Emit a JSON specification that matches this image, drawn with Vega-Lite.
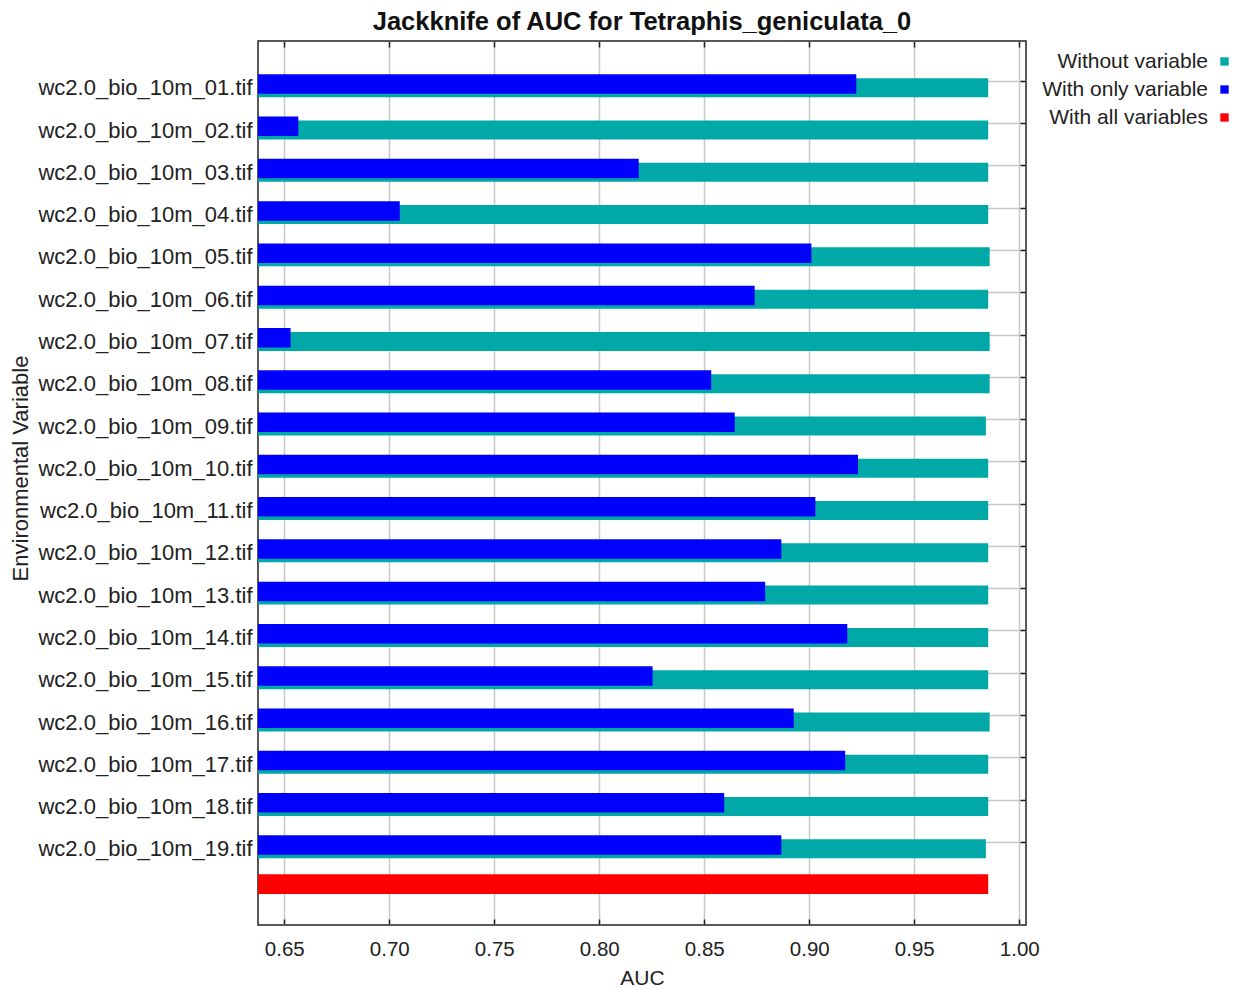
{
  "$schema": "https://vega.github.io/schema/vega-lite/v6.json",
  "width": 768,
  "height": 884,
  "autosize": {"type": "none"},
  "padding": {"left": 258, "top": 41, "right": 210, "bottom": 63},
  "background": "white",
  "config": {
    "font": "Liberation Sans",
    "view": {"stroke": "#222", "strokeWidth": 1.5},
    "axis": {"labelColor": "#222", "titleColor": "#222", "titleFontWeight": "normal", "gridColor": "#c8c8c8", "gridWidth": 1.5, "tickColor": "#222", "tickWidth": 1.5, "domain": false, "labelLimit": 0}
  },
  "title": {"text": "Jackknife of AUC for Tetraphis_geniculata_0", "fontSize": 25.5, "fontWeight": "bold", "color": "#111", "offset": 5, "font": "Liberation Sans"},
  "data": {"values": [
    {"variable": "wc2.0_bio_10m_01.tif", "series": "Without variable", "auc": 0.9852},
    {"variable": "wc2.0_bio_10m_02.tif", "series": "Without variable", "auc": 0.9852},
    {"variable": "wc2.0_bio_10m_03.tif", "series": "Without variable", "auc": 0.9852},
    {"variable": "wc2.0_bio_10m_04.tif", "series": "Without variable", "auc": 0.9852},
    {"variable": "wc2.0_bio_10m_05.tif", "series": "Without variable", "auc": 0.9859},
    {"variable": "wc2.0_bio_10m_06.tif", "series": "Without variable", "auc": 0.9852},
    {"variable": "wc2.0_bio_10m_07.tif", "series": "Without variable", "auc": 0.9859},
    {"variable": "wc2.0_bio_10m_08.tif", "series": "Without variable", "auc": 0.9859},
    {"variable": "wc2.0_bio_10m_09.tif", "series": "Without variable", "auc": 0.9841},
    {"variable": "wc2.0_bio_10m_10.tif", "series": "Without variable", "auc": 0.9852},
    {"variable": "wc2.0_bio_10m_11.tif", "series": "Without variable", "auc": 0.9852},
    {"variable": "wc2.0_bio_10m_12.tif", "series": "Without variable", "auc": 0.9852},
    {"variable": "wc2.0_bio_10m_13.tif", "series": "Without variable", "auc": 0.9852},
    {"variable": "wc2.0_bio_10m_14.tif", "series": "Without variable", "auc": 0.9852},
    {"variable": "wc2.0_bio_10m_15.tif", "series": "Without variable", "auc": 0.9852},
    {"variable": "wc2.0_bio_10m_16.tif", "series": "Without variable", "auc": 0.9859},
    {"variable": "wc2.0_bio_10m_17.tif", "series": "Without variable", "auc": 0.9852},
    {"variable": "wc2.0_bio_10m_18.tif", "series": "Without variable", "auc": 0.9852},
    {"variable": "wc2.0_bio_10m_19.tif", "series": "Without variable", "auc": 0.9841},
    {"variable": "wc2.0_bio_10m_01.tif", "series": "With only variable", "auc": 0.9224},
    {"variable": "wc2.0_bio_10m_02.tif", "series": "With only variable", "auc": 0.6567},
    {"variable": "wc2.0_bio_10m_03.tif", "series": "With only variable", "auc": 0.8188},
    {"variable": "wc2.0_bio_10m_04.tif", "series": "With only variable", "auc": 0.7050},
    {"variable": "wc2.0_bio_10m_05.tif", "series": "With only variable", "auc": 0.9010},
    {"variable": "wc2.0_bio_10m_06.tif", "series": "With only variable", "auc": 0.8740},
    {"variable": "wc2.0_bio_10m_07.tif", "series": "With only variable", "auc": 0.6530},
    {"variable": "wc2.0_bio_10m_08.tif", "series": "With only variable", "auc": 0.8533},
    {"variable": "wc2.0_bio_10m_09.tif", "series": "With only variable", "auc": 0.8645},
    {"variable": "wc2.0_bio_10m_10.tif", "series": "With only variable", "auc": 0.9232},
    {"variable": "wc2.0_bio_10m_11.tif", "series": "With only variable", "auc": 0.9029},
    {"variable": "wc2.0_bio_10m_12.tif", "series": "With only variable", "auc": 0.8867},
    {"variable": "wc2.0_bio_10m_13.tif", "series": "With only variable", "auc": 0.8790},
    {"variable": "wc2.0_bio_10m_14.tif", "series": "With only variable", "auc": 0.9181},
    {"variable": "wc2.0_bio_10m_15.tif", "series": "With only variable", "auc": 0.8254},
    {"variable": "wc2.0_bio_10m_16.tif", "series": "With only variable", "auc": 0.8926},
    {"variable": "wc2.0_bio_10m_17.tif", "series": "With only variable", "auc": 0.9171},
    {"variable": "wc2.0_bio_10m_18.tif", "series": "With only variable", "auc": 0.8595},
    {"variable": "wc2.0_bio_10m_19.tif", "series": "With only variable", "auc": 0.8867},
    {"variable": "All variables", "series": "With all variables", "auc": 0.9852}
  ]},
  "resolve": {"axis": {"x": "independent", "y": "independent"}},
  "layer": [
    {
      "transform": [{"filter": "datum.series == 'Without variable'"}],
      "mark": {"type": "bar", "height": 19, "yOffset": 6.4},
      "encoding": {
        "y": {"field": "variable", "type": "nominal",
          "scale": {"domain": ["wc2.0_bio_10m_01.tif","wc2.0_bio_10m_02.tif","wc2.0_bio_10m_03.tif","wc2.0_bio_10m_04.tif","wc2.0_bio_10m_05.tif","wc2.0_bio_10m_06.tif","wc2.0_bio_10m_07.tif","wc2.0_bio_10m_08.tif","wc2.0_bio_10m_09.tif","wc2.0_bio_10m_10.tif","wc2.0_bio_10m_11.tif","wc2.0_bio_10m_12.tif","wc2.0_bio_10m_13.tif","wc2.0_bio_10m_14.tif","wc2.0_bio_10m_15.tif","wc2.0_bio_10m_16.tif","wc2.0_bio_10m_17.tif","wc2.0_bio_10m_18.tif","wc2.0_bio_10m_19.tif","All variables"], "paddingInner": 0, "paddingOuter": 0.454},
          "axis": {"orient": "left", "title": "Environmental Variable", "titleFontSize": 22, "titleX": -231, "titleY": 427, "titleAngle": -90, "titleAlign": "center", "titleBaseline": "alphabetic", "labelFontSize": 22, "labelPadding": 6, "labelOffset": 7, "ticks": false, "grid": true,
            "values": ["wc2.0_bio_10m_01.tif","wc2.0_bio_10m_02.tif","wc2.0_bio_10m_03.tif","wc2.0_bio_10m_04.tif","wc2.0_bio_10m_05.tif","wc2.0_bio_10m_06.tif","wc2.0_bio_10m_07.tif","wc2.0_bio_10m_08.tif","wc2.0_bio_10m_09.tif","wc2.0_bio_10m_10.tif","wc2.0_bio_10m_11.tif","wc2.0_bio_10m_12.tif","wc2.0_bio_10m_13.tif","wc2.0_bio_10m_14.tif","wc2.0_bio_10m_15.tif","wc2.0_bio_10m_16.tif","wc2.0_bio_10m_17.tif","wc2.0_bio_10m_18.tif","wc2.0_bio_10m_19.tif"]}},
        "x": {"field": "auc", "type": "quantitative",
          "scale": {"domain": [0.6375, 1.0032], "zero": false, "nice": false},
          "axis": {"orient": "bottom", "title": "AUC", "titleFontSize": 21, "titlePadding": 8, "labelFontSize": 20.5, "tickSize": -6, "labelPadding": 20, "grid": true, "values": [0.65, 0.7, 0.75, 0.8, 0.85, 0.9, 0.95, 1.0], "format": ".2f"}},
        "x2": {"datum": 0.6375},
        "color": {"field": "series", "type": "nominal",
          "scale": {"domain": ["Without variable", "With only variable", "With all variables"], "range": ["#00A8A8", "#0000FF", "#FF0000"]},
          "legend": {"orient": "none", "legendX": 766, "legendY": 10, "title": null, "symbolType": "square", "symbolSize": 70, "symbolStrokeWidth": 0, "labelFontSize": 21, "labelLimit": 0, "labelColor": "#222", "labelAlign": "right", "labelOffset": -27, "symbolOffset": 190, "rowPadding": 6}}
      }
    },
    {
      "transform": [{"filter": "datum.series == 'With only variable'"}],
      "mark": {"type": "bar", "height": 19.5, "yOffset": 2.7},
      "encoding": {
        "y": {"field": "variable", "type": "nominal",
          "axis": {"orient": "right", "title": null, "labels": false, "ticks": true, "tickSize": -6, "grid": false,
            "values": ["wc2.0_bio_10m_01.tif","wc2.0_bio_10m_02.tif","wc2.0_bio_10m_03.tif","wc2.0_bio_10m_04.tif","wc2.0_bio_10m_05.tif","wc2.0_bio_10m_06.tif","wc2.0_bio_10m_07.tif","wc2.0_bio_10m_08.tif","wc2.0_bio_10m_09.tif","wc2.0_bio_10m_10.tif","wc2.0_bio_10m_11.tif","wc2.0_bio_10m_12.tif","wc2.0_bio_10m_13.tif","wc2.0_bio_10m_14.tif","wc2.0_bio_10m_15.tif","wc2.0_bio_10m_16.tif","wc2.0_bio_10m_17.tif","wc2.0_bio_10m_18.tif","wc2.0_bio_10m_19.tif"]}},
        "x": {"field": "auc", "type": "quantitative",
          "axis": {"orient": "top", "title": null, "labels": false, "tickSize": -6, "grid": false, "values": [0.65, 0.7, 0.75, 0.8, 0.85, 0.9, 0.95, 1.0]}},
        "x2": {"datum": 0.6375},
        "color": {"field": "series", "type": "nominal"}
      }
    },
    {
      "transform": [{"filter": "datum.series == 'With all variables'"}],
      "mark": {"type": "bar", "height": 19.7, "yOffset": -0.6},
      "encoding": {
        "y": {"field": "variable", "type": "nominal", "axis": null},
        "x": {"field": "auc", "type": "quantitative", "axis": null},
        "x2": {"datum": 0.6375},
        "color": {"field": "series", "type": "nominal"}
      }
    }
  ]
}
